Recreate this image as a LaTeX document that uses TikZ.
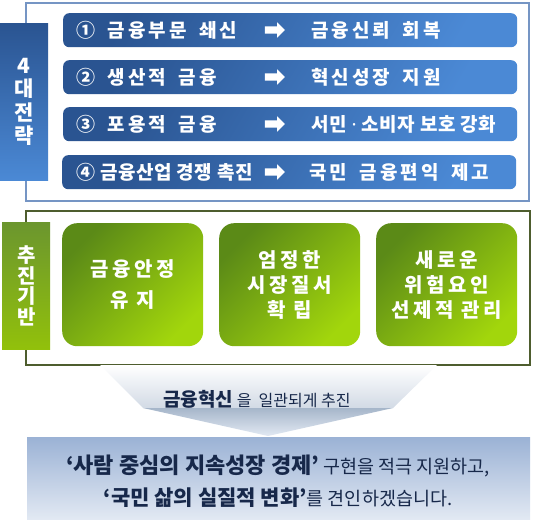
\documentclass[tikz,border=0pt]{standalone}
\usepackage{fontspec}
\setmainfont{Noto Sans CJK KR}
\newfontfamily\rowfont[LetterSpace=16,WordSpace=1.7]{Noto Sans CJK KR}
\newfontfamily\tightfont[LetterSpace=3]{Noto Sans CJK KR}
\newfontfamily\boxfont[LetterSpace=18]{Noto Sans CJK KR}
\newfontfamily\dotfont{Noto Sans}
\usepackage{tikz}
\usetikzlibrary{positioning,shapes.arrows}
\definecolor{strategydark}{HTML}{2A5491}
\definecolor{strategylight}{HTML}{4B89D5}
\definecolor{frameblue}{HTML}{7595C4}
\definecolor{basedark}{HTML}{5B8A17}
\definecolor{baselight}{HTML}{A2D60C}
\definecolor{frameolive}{HTML}{4E5D2E}
\definecolor{inknavy}{HTML}{17284A}
\definecolor{goaltop}{HTML}{9BB2D5}
\definecolor{goalbottom}{HTML}{E2E9F3}
\definecolor{funnelmid}{HTML}{D2DAE5}
\definecolor{funneltip}{HTML}{A6B6CA}

\begin{document}
\begin{tikzpicture}[x=1pt,y=-1pt,
    strategy/.style={rounded corners=6pt,top color=strategydark,bottom color=strategylight,
      shading angle=60,minimum width=454pt,minimum height=34pt,anchor=north west,inner sep=0pt},
    rowtext/.style={text=white,font=\rowfont\fontsize{19pt}{21pt}\selectfont\bfseries,anchor=west,inner sep=0pt},
    tightrow/.style={rowtext,font=\tightfont\fontsize{19pt}{21pt}\selectfont\bfseries},
    pointer/.style={single arrow,fill=white,draw=none,minimum height=20pt,minimum width=15pt,
      single arrow head extend=4pt,inner xsep=0pt,inner ysep=3.5pt},
    tab/.style={anchor=north west,inner sep=0pt,text=white,align=center,shading angle=45},
    basebox/.style={rounded corners=15pt,top color=basedark,bottom color=baselight,shading angle=45,
      minimum width=141pt,minimum height=123pt,anchor=north west,inner sep=0pt,
      text=white,align=center,font=\boxfont\fontsize{20pt}{25pt}\selectfont\bfseries}]
  \useasboundingbox (0,0) rectangle (535,526);

  % 4 strategies
  \node[draw=frameblue,line width=1.8pt,fill=white,minimum width=503pt,minimum height=198pt,
    anchor=north west] (strategies) at (25,2) {};
  \node[tab,top color=strategydark,bottom color=strategylight,minimum width=48pt,minimum height=157pt,
    font=\fontsize{21pt}{23.5pt}\selectfont\bfseries] (strategytab) at (0,23) {4\\대\\전\\략};

  \node[strategy] (row1) at (63,13) {};
  \node[strategy] (row2) at (63,60) {};
  \node[strategy] (row3) at (63,107) {};
  \node[strategy] (row4) at (62,155) {};

  \node[rowtext] (task1) at (76,30) {① 금융부문 쇄신};
  \node[rowtext] (task2) at (76,77) {② 생산적 금융};
  \node[rowtext] (task3) at (76,124) {③ 포용적 금융};
  \node[tightrow] (task4) at (76,172) {④ 금융산업 경쟁 촉진};
  \node[pointer] (arrow1) at (273,30) {};
  \node[pointer] (arrow2) at (273,77) {};
  \node[pointer] (arrow3) at (273,124) {};
  \node[pointer] (arrow4) at (273,172) {};
  \node[rowtext] (aim1) at (311,30) {금융신뢰 회복};
  \node[rowtext] (aim2) at (311,77) {혁신성장 지원};
  \node[tightrow] (aim3) at (311,124) {서민 {\dotfont ·} 소비자 보호 강화};
  \node[rowtext] (aim4) at (309,172) {국민 금융편익 제고};

  % foundations
  \node[draw=frameolive,line width=1.8pt,fill=white,minimum width=504pt,minimum height=154pt,
    anchor=north west] (foundations) at (25,210) {};
  \node[tab,top color=basedark!90,bottom color=baselight!90!black,minimum width=48pt,minimum height=127pt,
    font=\fontsize{20pt}{20.5pt}\selectfont\bfseries] (basetab) at (2,222) {추\\진\\기\\반};
  \node[basebox] (stability) at (62,223) {금융안정\\[6pt]유 지};
  \node[basebox] (order) at (219,223) {엄정한\\시장질서\\확 립};
  \node[basebox] (risk) at (376,223) {새로운\\위험요인\\선제적 관리};

  % funnel
  \shade[top color=white,bottom color=funnelmid] (100,365) -- (437,365) -- (393,408) -- (143,408) -- cycle;
  \shade[top color=funneltip,bottom color=goalbottom] (143,408) -- (393,408) -- (268,436) -- cycle;
  \node[text=inknavy,font=\fontsize{16pt}{18pt}\selectfont] (push) at (257,399)
    {{\bfseries\fontsize{19pt}{19pt}\selectfont 금융혁신} 을 \ 일관되게 추진};

  % goal
  \node[top color=goaltop,bottom color=goalbottom,minimum width=503pt,minimum height=82pt,
    anchor=north west,inner sep=0pt] (goal) at (27,437) {};
  \node[text=inknavy,align=center,font=\fontsize{18.5pt}{32pt}\selectfont] (goaltext) at (278,481)
    {{\bfseries\fontsize{22pt}{32pt}\selectfont ‘사람 중심의 지속성장 경제’} 구현을 적극 지원하고,\\
     {\bfseries\fontsize{21pt}{32pt}\selectfont ‘국민 삶의 실질적 변화’}를 견인하겠습니다.};
\end{tikzpicture}
\end{document}
